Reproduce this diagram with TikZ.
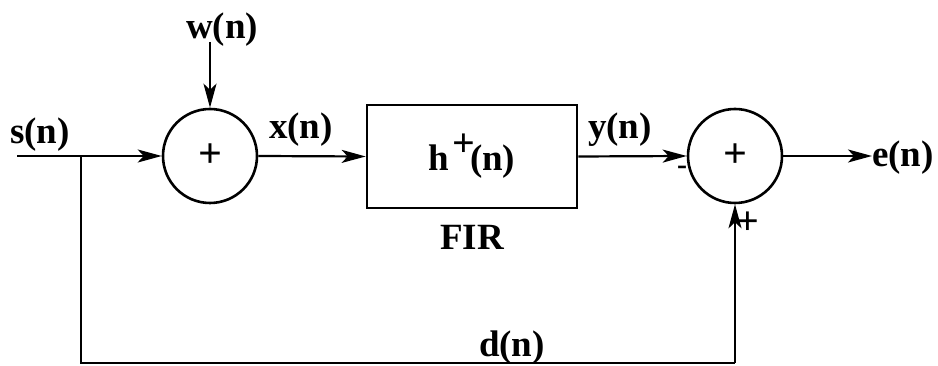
\documentclass[tikz,border=0pt]{standalone}
\usepackage{fontspec}
\setmainfont{Liberation Serif}
\usetikzlibrary{arrows.meta}
\begin{document}
\begin{tikzpicture}[x=1pt,y=1pt,
  lbl/.style={font=\fontsize{37}{40}\selectfont\bfseries, inner sep=0pt},
  sumnode/.style={circle, draw, line width=2.6pt, minimum size=94pt, inner sep=0pt,
    font=\fontsize{42}{44}\selectfont\bfseries},
  blockbox/.style={rectangle, draw, line width=2.6pt, minimum width=210pt, minimum height=103pt,
    font=\fontsize{37}{40}\selectfont\bfseries},
  wire/.style={line width=2.2pt},
  arr/.style={wire, -{Stealth[length=24pt,width=13pt,inset=6pt]}}]
\useasboundingbox (0,0) rectangle (938,366);
% nodes
\node[sumnode] (c1) at (210,210) {+};
\node[sumnode] (c2) at (735,210) {+};
\node[blockbox] (fir) at (472,209.5) {h\kern3pt\raisebox{14pt}{\fontsize{40}{42}\selectfont +}\kern-5pt(n)};
\node[lbl] (s) at (40,231) {s(n)};
\node[lbl] (w) at (222,336) {w(n)};
\node[lbl] (x) at (301,236) {x(n)};
\node[lbl] (y) at (620,236) {y(n)};
\node[lbl, anchor=west] (e) at (872,208) {e(n)};
\node[lbl] (firlbl) at (472,129) {FIR};
\node[lbl, anchor=base] (d) at (512,9) {d(n)};
\node[lbl, font=\fontsize{30}{32}\selectfont\bfseries] (minus) at (682,196) {-};
\node[lbl, font=\fontsize{40}{42}\selectfont\bfseries] (plus) at (748,143) {+};
% coordinates
\coordinate (sin) at (17,210);
\coordinate (br) at (81,210);
\coordinate (wtop) at (210,324);
\coordinate (bl) at (81,3);
\coordinate (brr) at (735,3);
% connectors
\draw[wire] (sin) -- (br);
\draw[arr] (br) -- (c1.west);
\draw[arr] (wtop) -- (c1.north);
\draw[arr] (c1.east) -- (fir.west);
\draw[arr] (fir.east) -- (c2.west);
\draw[arr] (c2.east) -- (c2.east -| e.west);
\draw[wire] (br) -- (bl) -- (brr);
\draw[arr] (brr) -- (c2.south);
\end{tikzpicture}
\end{document}
